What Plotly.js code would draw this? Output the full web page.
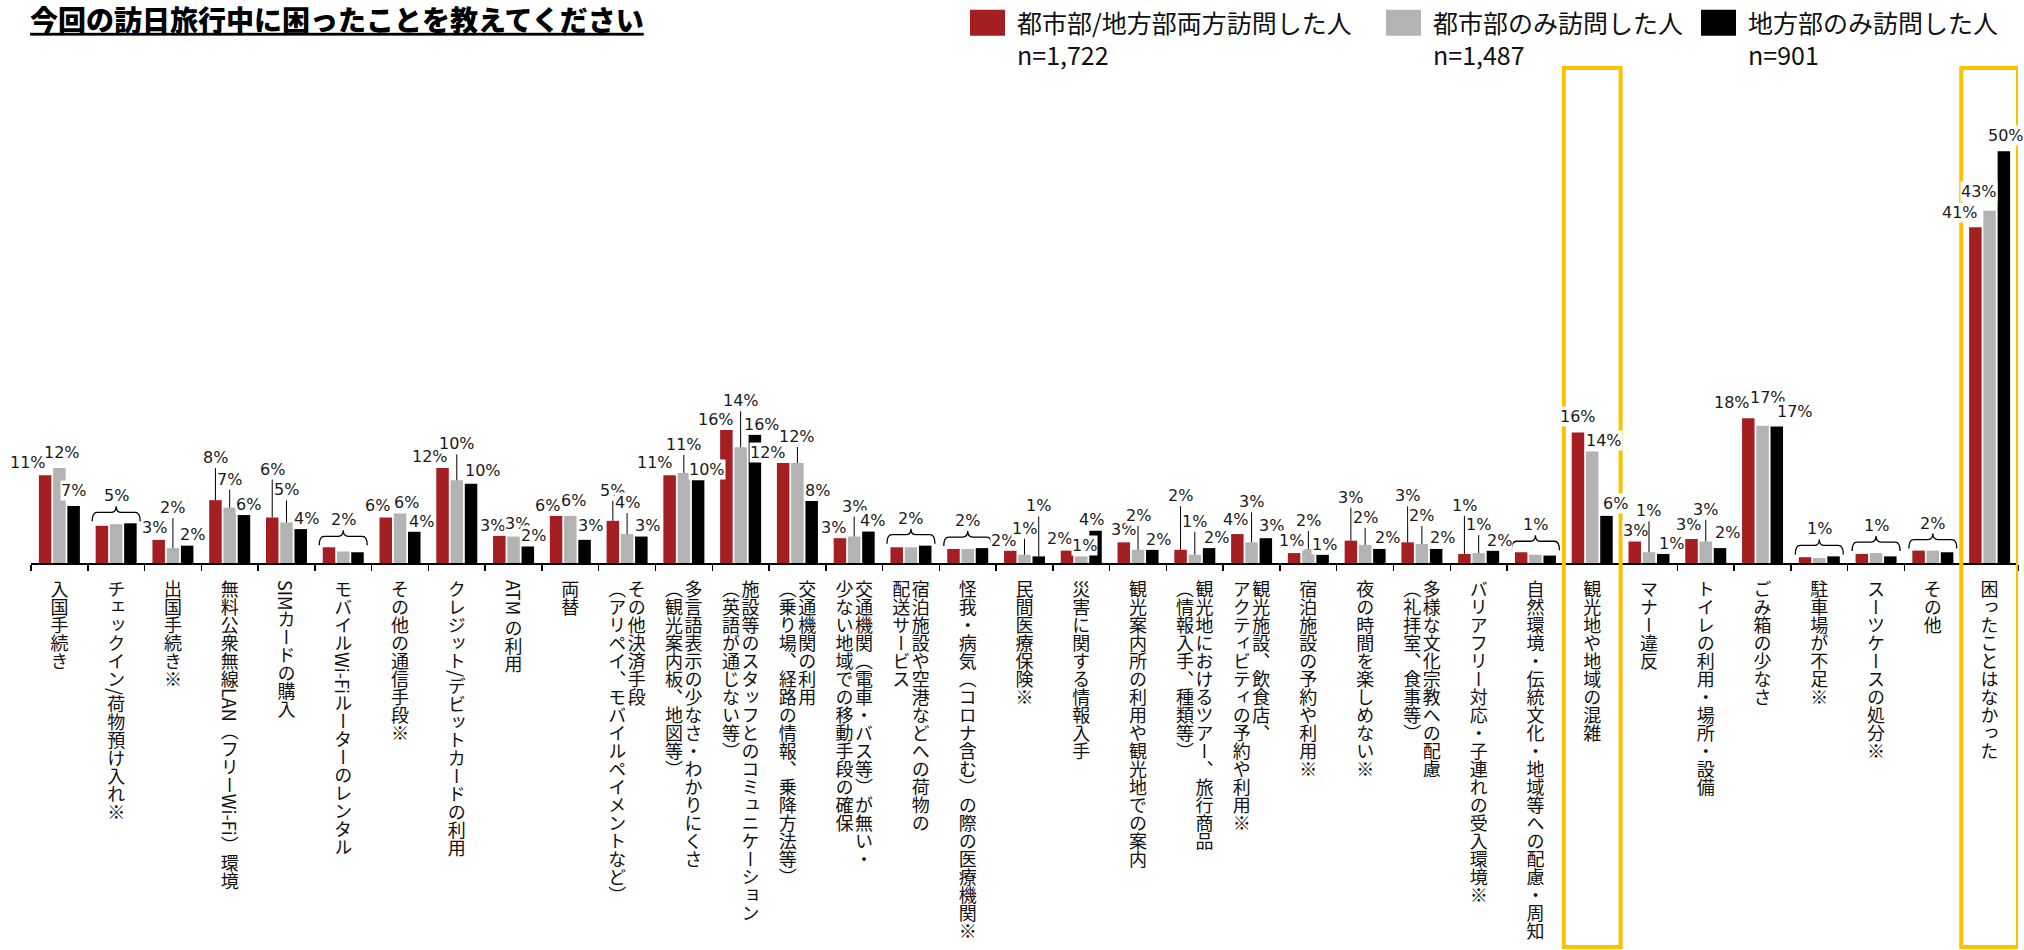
<!DOCTYPE html>
<html>
<head>
<meta charset="utf-8">
<script src="https://cdn.plot.ly/plotly-3.0.1.min.js"></script>
<style>
html,body{margin:0;padding:0;background:#fff;}
#chart{width:2024px;height:950px;}
/* larger legend swatches (35 x 26 px), placed left of the legend text */
#chart .legendpoints > path { transform: translate(10.5px, 0px) scale(2.917, 2.167) !important; }
#chart .infolayer [class*="legend"], #chart .infolayer .scrollbox { clip-path: none !important; }
</style>
</head>
<body>
<div id="chart"></div>
<script>
// ---------- DATA ----------
const categories = [
  '入国手続き',
  'チェックイン/荷物預け入れ※',
  '出国手続き※',
  '無料公衆無線LAN（フリーWi-Fi）環境',
  'SIMカードの購入',
  'モバイルWi-Fiルーターのレンタル',
  'その他の通信手段※',
  'クレジット/デビットカードの利用',
  'ATM の利用',
  '両替',
  'その他決済手段（アリペイ、モバイルペイメントなど）',
  '多言語表示の少なさ・わかりにくさ（観光案内板、地図等）',
  '施設等のスタッフとのコミュニケーション（英語が通じない等）',
  '交通機関の利用（乗り場、経路の情報、乗降方法等）',
  '交通機関（電車・バス等）が無い・少ない地域での移動手段の確保',
  '宿泊施設や空港などへの荷物の配送サービス',
  '怪我・病気（コロナ含む）の際の医療機関※',
  '民間医療保険※',
  '災害に関する情報入手',
  '観光案内所の利用や観光地での案内',
  '観光地におけるツアー、旅行商品（情報入手、種類等）',
  '観光施設、飲食店、アクティビティの予約や利用※',
  '宿泊施設の予約や利用※',
  '夜の時間を楽しめない※',
  '多様な文化宗教への配慮（礼拝室、食事等）',
  'バリアフリー対応・子連れの受入環境※',
  '自然環境・伝統文化・地域等への配慮・周知',
  '観光地や地域の混雑',
  'マナー違反',
  'トイレの利用・場所・設備',
  'ごみ箱の少なさ',
  '駐車場が不足※',
  'スーツケースの処分※',
  'その他',
  '困ったことはなかった'
];

const tickLabels = [
  '入国手続き',
  'チェックイン/荷物預け入れ※',
  '出国手続き※',
  '無料公衆無線LAN（フリーWi-Fi）環境',
  'SIMカードの購入',
  'モバイルWi-Fiルーターのレンタル',
  'その他の通信手段※',
  'クレジット/デビットカードの利用',
  'ATM の利用',
  '両替',
  'その他決済手段<br>（アリペイ、モバイルペイメントなど）',
  '多言語表示の少なさ・わかりにくさ<br>（観光案内板、地図等）',
  '施設等のスタッフとのコミュニケーション<br>（英語が通じない等）',
  '交通機関の利用<br>（乗り場、経路の情報、乗降方法等）',
  '交通機関（電車・バス等）が無い・<br>少ない地域での移動手段の確保',
  '宿泊施設や空港などへの荷物の<br>配送サービス',
  '怪我・病気（コロナ含む）の際の医療機関※',
  '民間医療保険※',
  '災害に関する情報入手',
  '観光案内所の利用や観光地での案内',
  '観光地におけるツアー、旅行商品<br>（情報入手、種類等）',
  '観光施設、飲食店、<br>アクティビティの予約や利用※',
  '宿泊施設の予約や利用※',
  '夜の時間を楽しめない※',
  '多様な文化宗教への配慮<br>（礼拝室、食事等）',
  'バリアフリー対応・子連れの受入環境※',
  '自然環境・伝統文化・地域等への配慮・周知',
  '観光地や地域の混雑',
  'マナー違反',
  'トイレの利用・場所・設備',
  'ごみ箱の少なさ',
  '駐車場が不足※',
  'スーツケースの処分※',
  'その他',
  '困ったことはなかった'
];

const seriesNames = ['都市部/地方部両方訪問した人', '都市部のみ訪問した人', '地方部のみ訪問した人'];
const sampleSizes = ['n=1,722', 'n=1,487', 'n=901'];

const bothValues  = [10.6,4.5,2.8,7.6,5.5,1.9,5.5,11.5,3.3,5.7,5.1,10.6,16.1,12.1,3.0,1.9,1.7,1.5,1.5,2.5,1.6,3.5,1.2,2.7,2.5,1.1,1.3,15.8,2.6,2.9,17.5,0.7,1.1,1.5,40.6];
const urbanValues = [11.5,4.7,1.8,6.7,4.9,1.4,6.0,10.0,3.2,5.7,3.5,10.9,14.0,12.1,3.2,1.9,1.7,1.0,0.8,1.6,1.0,2.5,1.7,2.2,2.3,1.2,1.0,13.5,1.3,2.6,16.6,0.6,1.2,1.5,42.6];
const ruralValues = [6.9,4.8,2.1,5.8,4.1,1.3,3.8,9.6,2.0,2.8,3.2,10.0,15.5,7.5,3.8,2.1,1.8,0.8,3.9,1.6,1.8,3.0,1.0,1.7,1.7,1.5,0.9,5.7,1.1,1.8,16.5,0.8,0.8,1.3,49.8];

const bothLabels  = ['11%','','3%','8%','6%','','6%','12%','3%','6%','5%','11%','16%','12%','3%','','','2%','2%','3%','2%','4%','1%','3%','3%','1%','','16%','3%','3%','18%','','','','41%'];
const urbanLabels = ['12%','','2%','7%','5%','','6%','10%','3%','6%','4%','11%','14%','12%','3%','','','1%','1%','2%','1%','3%','2%','2%','2%','1%','','14%','1%','3%','17%','','','','43%'];
const ruralLabels = ['7%','','2%','6%','4%','','4%','10%','2%','3%','3%','10%','16%','8%','4%','','','1%','4%','2%','2%','3%','1%','2%','2%','2%','','6%','1%','2%','17%','','','','50%'];
const groupLabels = ['','5%','','','','2%','','','','','','','','','','2%','2%','','','','','','','','','','1%','','','','','1%','1%','2%',''];

const highlighted = ['観光地や地域の混雑', '困ったことはなかった'];

// ---------- LABEL PLACEMENT (pixels: dx from bar centre, lift above bar top, leader line) ----------
const LABEL_POS = {
  0:[[-17.5,6,0],[3,9,0],[0,8.7,0]],
  2:[[-4,6,0],[0,34,1],[5.7,5,0]],
  3:[[0,36,1],[0,22,1],[5,3,0]],
  4:[[0,42,1],[0,26,1],[5.8,2,0]],
  6:[[-8.6,5.7,0],[6.3,3.7,0],[7.7,1,0]],
  7:[[-12.9,5.4,0],[0,30,1],[12.3,6.7,0]],
  8:[[-7.2,1,0],[4.3,6.7,0],[5.7,4.3,0]],
  9:[[-8.2,2.4,0],[3.3,8.4,0],[5.8,7.6,0]],
  10:[[0,24,1],[0,25,1],[6,5,0]],
  11:[[-14.7,6.7,0],[0,22,1],[8.9,3.3,0]],
  12:[[-10,2.6,0],[0,40,1],[6.7,3,0]],
  13:[[-15.4,2.7,0],[0,20,1],[5.7,1.3,0]],
  14:[[-6.7,3.3,0],[0,24,1],[4.4,4.6,0]],
  17:[[-6.7,3,0],[0,20,1],[0,44,1]],
  18:[[-8,6,0],[3,4.6,0],[-4.5,4.6,0]],
  19:[[0,6,0],[0,28,1],[6.7,3,0]],
  20:[[0,47.6,1],[0,27,1],[7.5,2.7,0]],
  21:[[-2,8.3,0],[0,34,1],[5.8,6,0]],
  22:[[-3,6,0],[0,22,1],[1.5,2.3,0]],
  23:[[0,37,1],[0,21,1],[7.9,5,0]],
  24:[[0,40,1],[0,22,1],[6.5,5,0]],
  25:[[0,42,1],[0,22,1],[7,3.4,0]],
  27:[[0,9.3,0],[11.7,4.4,0],[9,5.7,0]],
  28:[[1,4.3,0],[0,35,1],[7.8,3.3,0]],
  29:[[-2.7,8.3,0],[0,25.7,1],[7.7,9.4,0]],
  30:[[-16,9.4,0],[5.9,21.7,0],[18,9,0]],
  34:[[-15.5,8.7,0],[-11,13.3,0],[2,9.3,0]]
};

// ---------- LAYOUT CONSTANTS ----------
const W = 2024, H = 950;
const margin = {l: 31, r: 6, t: 67, b: 387, pad: 0, autoexpand: false};
const plotW = W - margin.l - margin.r;
const plotH = H - margin.t - margin.b;
const Y_MAX = 60;
const BARGAP = 0.247, GROUPGAP = 0.123;
const catW = plotW / categories.length;
const slot = catW * (1 - BARGAP) / 3;
const barShift = [-slot, 0, slot];
const DESC = 4;
const COLORS = ['#A41E22', '#B3B3B3', '#000000'];
const LABEL_FONT = {family: 'DejaVu Sans, Verdana, sans-serif', size: 16, color: '#1a1a1a'};
const JP = 'Noto Sans CJK JP, Noto Sans, sans-serif';

const series = [
  {name: seriesNames[0], n: sampleSizes[0], values: bothValues,  labels: bothLabels},
  {name: seriesNames[1], n: sampleSizes[1], values: urbanValues, labels: urbanLabels},
  {name: seriesNames[2], n: sampleSizes[2], values: ruralValues, labels: ruralLabels}
];
const legendIds = ['legend', 'legend2', 'legend3'];

const traces = series.map((s, k) => ({
  type: 'bar',
  x: categories,
  y: s.values,
  name: s.name + '<br>' + s.n,
  legend: legendIds[k],
  marker: {color: COLORS[k], line: {width: 0}},
  hoverinfo: 'skip',
  cliponaxis: false
}));

const annotations = [];
const shapes = [];

categories.forEach((cat, i) => {
  if (groupLabels[i]) {
    const top = Math.max(...series.map(s => s.values[i]));
    annotations.push({
      xref: 'x', yref: 'y', x: i, y: top, yshift: 21 - DESC,
      text: groupLabels[i], showarrow: false, xanchor: 'center', yanchor: 'bottom',
      borderpad: 0, font: LABEL_FONT
    });
    shapes.push({
      type: 'path', xref: 'x', yref: 'y', xsizemode: 'pixel', ysizemode: 'pixel',
      xanchor: i, yanchor: top,
      path: 'M -24 2 Q -24 11 -19 11 L -5 11 Q 0 11 0 17 Q 0 11 5 11 L 19 11 Q 24 11 24 2',
      line: {color: '#000', width: 1.3}
    });
  }
  const pos = LABEL_POS[i];
  if (!pos) return;
  series.forEach((s, k) => {
    const txt = s.labels[i];
    if (!txt) return;
    const [dx, lift, leader] = pos[k];
    if (leader) {
      annotations.push({
        xref: 'x', yref: 'y', x: i, y: s.values[i], xshift: barShift[k],
        text: txt, showarrow: true, arrowhead: 0, arrowwidth: 1, arrowcolor: '#000',
        ax: 0, ay: -(lift - DESC), standoff: 0,
        xanchor: 'center', yanchor: 'bottom', bgcolor: '#ffffff', borderpad: 0, font: LABEL_FONT
      });
    } else {
      annotations.push({
        xref: 'x', yref: 'y', x: i, y: s.values[i], xshift: barShift[k] + dx,
        yshift: Math.max(lift - DESC, 0),
        text: txt, showarrow: false,
        xanchor: 'center', yanchor: 'bottom', bgcolor: '#ffffff', borderpad: 0, font: LABEL_FONT
      });
    }
  });
});

// highlight boxes (yellow) around chosen categories
const plotTopPx = margin.t, plotBottomPx = H - margin.b;
const toPaperY = px => (plotBottomPx - px) / (plotBottomPx - plotTopPx);
highlighted.forEach(name => {
  const idx = categories.indexOf(name);
  shapes.push({
    type: 'rect', xref: 'x', yref: 'paper',
    x0: idx - 0.5, x1: idx + 0.5, y0: toPaperY(947), y1: toPaperY(68),
    line: {color: '#FFC000', width: 4}, fillcolor: 'rgba(0,0,0,0)', layer: 'above'
  });
});

function legendCfg(xPx) {
  return {
    xref: 'container', yref: 'container', x: xPx / W, y: 1 + 2 / H,
    xanchor: 'left', yanchor: 'top', orientation: 'v', valign: 'top',
    bgcolor: 'rgba(0,0,0,0)', borderwidth: 0, itemwidth: 30,
    font: {family: JP, size: 25, color: '#111'}
  };
}

const layout = {
  width: W, height: H, margin: margin,
  paper_bgcolor: '#ffffff', plot_bgcolor: '#ffffff',
  title: {
    text: '今回の訪日旅行中に困ったことを教えてください',
    xref: 'container', yref: 'container', x: 30 / W, y: 1 - 21 / H,
    xanchor: 'left', yanchor: 'middle',
    font: {family: JP, size: 28, weight: 900, color: '#000', lineposition: 'under'}
  },
  barmode: 'group', bargap: BARGAP, bargroupgap: GROUPGAP,
  showlegend: true,
  legend: legendCfg(977), legend2: legendCfg(1393), legend3: legendCfg(1708),
  xaxis: {
    type: 'category', range: [-0.5, categories.length - 0.5],
    tickmode: 'array', tickvals: categories, ticktext: tickLabels,
    tickson: 'boundaries', ticks: 'outside', ticklen: 6, tickwidth: 1.5, tickcolor: '#000',
    showline: true, linecolor: '#000', linewidth: 2,
    showgrid: false, zeroline: false, tickangle: 0, automargin: false, fixedrange: true,
    tickfont: {family: JP, size: 18, color: '#111'}
  },
  yaxis: {range: [0, Y_MAX], visible: false, fixedrange: true},
  annotations: annotations,
  shapes: shapes
};

function finish(gd) {
  // vertical (tategaki) category labels
  const TOP = 580, COL = 19.5;
  gd.querySelectorAll('g.xtick > text').forEach(t => {
    const m = /translate\(\s*([-\d.e]+)/.exec(t.getAttribute('transform') || '');
    const cx = m ? parseFloat(m[1]) : 0;
    t.setAttribute('transform', 'translate(' + cx + ',0)');
    t.setAttribute('text-anchor', 'start');
    t.style.writingMode = 'vertical-rl';
    t.removeAttribute('dy');
    t.setAttribute('x', 0);
    t.setAttribute('y', TOP);
    const lines = t.querySelectorAll('tspan.line');
    const n = lines.length;
    lines.forEach((ln, k) => {
      ln.setAttribute('x', ((n - 1) / 2 - k) * COL);
      ln.setAttribute('y', TOP);
      ln.removeAttribute('dy');
    });
  });
}

const gd = document.getElementById('chart');
const observer = new MutationObserver(() => {
  observer.disconnect();
  try { finish(gd); } catch (e) {}
  observer.observe(gd, {childList: true, subtree: true});
});
observer.observe(gd, {childList: true, subtree: true});

Plotly.newPlot(gd, traces, layout, {staticPlot: true, displayModeBar: false}).then(() => {
  finish(gd);
  [0, 50, 200, 600].forEach(ms => setTimeout(() => { try { finish(gd); } catch (e) {} }, ms));
});
</script>
</body>
</html>
